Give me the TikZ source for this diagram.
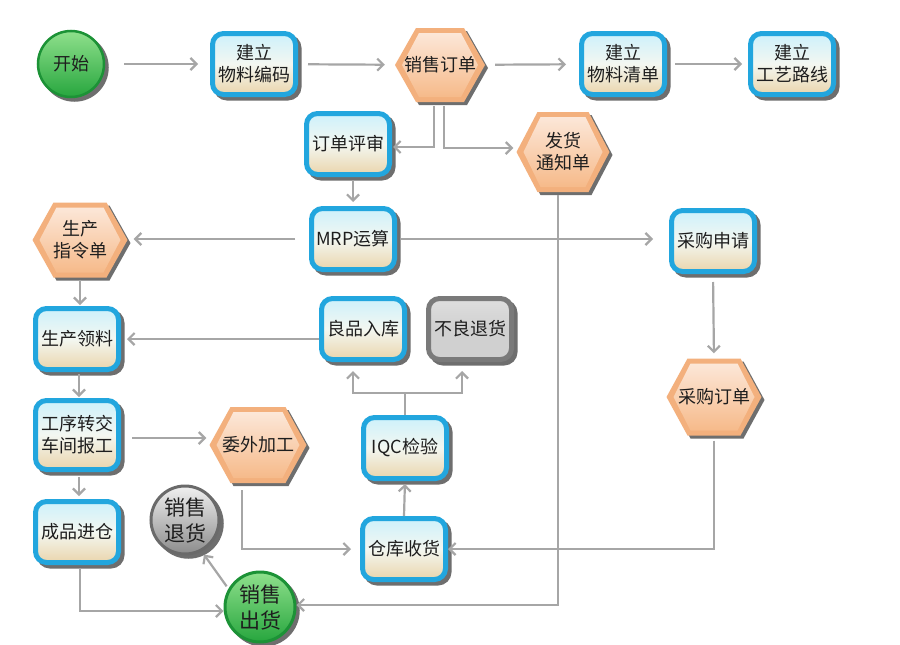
\documentclass[tikz,border=0pt]{standalone}
\usepackage{fontspec}
\setmainfont{Noto Sans CJK SC}
\usetikzlibrary{shadows,arrows.meta,calc}
\definecolor{bluebd}{HTML}{22A6DE}
\definecolor{boxtop}{HTML}{CDF1FB}
\definecolor{boxmid}{HTML}{F3F7F1}
\definecolor{boxbot}{HTML}{EAD5AC}
\definecolor{hexbd}{HTML}{F3B07D}
\definecolor{hextop}{HTML}{FCE7D8}
\definecolor{hexbot}{HTML}{F6BA8A}
\definecolor{gtop}{HTML}{8FE08C}
\definecolor{gbot}{HTML}{27A63E}
\definecolor{gbd}{HTML}{1C9236}
\definecolor{graytop}{HTML}{F0F0F0}
\definecolor{graybot}{HTML}{8C8C8C}
\definecolor{graybd}{HTML}{6A6A6A}
\definecolor{gbxbd}{HTML}{7A7A7A}
\definecolor{gbxfill}{HTML}{D0D0D0}
\definecolor{arrc}{HTML}{A6A6A6}
\definecolor{shadc}{HTML}{6E6E6E}
\definecolor{txtc}{HTML}{1E1E1E}
\tikzset{
  myshadow/.style={drop shadow={shadow xshift=3.5pt, shadow yshift=-3.5pt, fill=shadc, draw=shadc, line width=#1, opacity=1}},
  box/.style={draw=bluebd, line width=5pt, rounded corners=11pt,
    top color=boxtop, bottom color=boxbot, middle color=boxmid,
    minimum width=83pt, minimum height=61pt, inner sep=0pt, align=center,
    text=txtc, font=\fontsize{18}{22}\selectfont, myshadow=5pt},
  graybox/.style={box, draw=gbxbd, top color=gbxfill!70!white, bottom color=gbxfill, middle color=gbxfill},
  hexlabel/.style={rectangle, inner sep=0pt, align=center, text=txtc,
    font=\fontsize{18}{22}\selectfont},
  greenc/.style={circle, draw=gbd, line width=2.5pt, top color=gtop, bottom color=gbot,
    minimum size=66pt, inner sep=0pt, align=center, text=txtc,
    font=\fontsize{18}{22}\selectfont, myshadow=2.5pt},
  grayc/.style={greenc, draw=graybd, line width=3pt, top color=graytop, bottom color=graybot,
    minimum size=68pt, font=\fontsize{21}{26}\selectfont},
  arr/.style={draw=arrc, line width=2.2pt, -{Straight Barb[length=6pt,width=12pt]},
    shorten <=10pt, shorten >=10pt},
  ln/.style={draw=arrc, line width=2.2pt}
}
% hexagon: name, x, y, width, height, text
\newcommand{\hexnode}[6]{%
  \fill[shadc] ({#2-#4/2+3},{#3+3}) -- ({#2-#4/2+21+3},{#3-#5/2+3}) -- ({#2+#4/2-21+3},{#3-#5/2+3}) -- ({#2+#4/2+3},{#3+3}) -- ({#2+#4/2-21+3},{#3+#5/2+3}) -- ({#2-#4/2+21+3},{#3+#5/2+3}) -- cycle;
  \fill[hexbd] ({#2-#4/2},{#3}) -- ({#2-#4/2+21},{#3-#5/2}) -- ({#2+#4/2-21},{#3-#5/2}) -- ({#2+#4/2},{#3}) -- ({#2+#4/2-21},{#3+#5/2}) -- ({#2-#4/2+21},{#3+#5/2}) -- cycle;
  \shade[top color=hextop, bottom color=hexbot] ({#2-#4/2+7},{#3}) -- ({#2-#4/2+24},{#3-#5/2+5}) -- ({#2+#4/2-24},{#3-#5/2+5}) -- ({#2+#4/2-7},{#3}) -- ({#2+#4/2-24},{#3+#5/2-5}) -- ({#2-#4/2+24},{#3+#5/2-5}) -- cycle;
  \node[hexlabel, minimum width=#4, minimum height=#5] (#1) at (#2,#3) {#6};
}
\begin{document}
\begin{tikzpicture}[x=1pt,y=-1pt]
\useasboundingbox (0,0) rectangle (900,645);
\fill[white] (0,0) rectangle (900,645);
% nodes
\node[greenc] (start) at (71,64) {开始};
\node[box] (wlbm) at (254,64) {建立\\物料编码};
\hexnode{xsdd}{440}{65}{90}{74}{销售订单}
\node[box] (wlqd) at (623,64) {建立\\物料清单};
\node[box] (gylx) at (792,64) {建立\\工艺路线};
\hexnode{fhtz}{563}{152}{93}{80}{发货\\通知单}
\node[box] (ddps) at (348,144) {订单评审};
\node[box] (mrp) at (353,239) {MRP运算};
\hexnode{sczl}{80}{240}{95}{75}{生产\\指令单}
\node[box] (cgsq) at (713,241) {采购申请};
\node[box] (scll) at (77,339) {生产领料};
\node[box] (lprk) at (363,329) {良品入库};
\node[graybox] (blth) at (470,329) {不良退货};
\hexnode{cgdd}{714}{397}{95}{77}{采购订单}
\node[box, minimum height=69pt] (gxzj) at (77,435) {工序转交\\车间报工};
\hexnode{wwjg}{258}{445}{97}{76}{委外加工}
\node[box] (iqc) at (405,448) {IQC检验};
\node[box] (cpjc) at (77,532) {成品进仓};
\node[grayc] (xsth) at (185,520) {销售\\退货};
\node[grayc, draw=gbd, top color=gtop, bottom color=gbot, minimum size=70pt] (xsck) at (260,607) {销售\\出货};
\node[box] (ckhs) at (404,549) {仓库收货};
% connectors
\draw[arr, shorten <=19pt, shorten >=12pt] (start) -- (wlbm);
\draw[arr] (wlbm) -- (xsdd);
\draw[arr, shorten >=13pt] (xsdd) -- (wlqd);
\draw[arr, shorten <=8pt, shorten >=6pt] (wlqd) -- (gylx);
\draw[arr, shorten <=4pt, shorten >=1pt] ($(xsdd.south)+(-6,0)$) |- ($(ddps.east)+(0,3)$);
\draw[arr, shorten <=4pt, shorten >=3pt] ($(xsdd.south)+(4,0)$) |- ($(fhtz.west)+(0,-4)$);
\draw[arr, shorten <=3pt, shorten >=0pt] ($(fhtz.south)+(-5,0)$) |- ($(xsck.east)+(0,-2)$);
\draw[arr, shorten <=3pt, shorten >=4pt] (ddps.south -| mrp.north) -- (mrp.north);
\draw[arr, shorten <=14pt, shorten >=6pt] (mrp.west) -- (mrp.west -| sczl.east);
\draw[arr, shorten <=4pt, shorten >=16pt] (mrp.east) -- (mrp.east -| cgsq.west);
\draw[arr, shorten <=8pt, shorten >=5pt] (cgsq.south) -- (cgdd.north);
\draw[arr, shorten <=5pt, shorten >=0pt] (cgdd.south) |- (ckhs.east);
\draw[arr, shorten <=2pt, shorten >=1pt] (sczl.south) -- (sczl.south |- scll.north);
\draw[arr, shorten <=0pt, shorten >=6pt] (lprk.west |- scll.east) -- (scll.east);
\coordinate (j) at ($(iqc.north)+(0,-22)$);
\draw[ln] (iqc.north) -- (j);
\draw[arr, shorten <=0pt, shorten >=9pt] (j) -| ($(lprk.south)+(-10,0)$);
\draw[arr, shorten <=0pt, shorten >=9pt] (j) -| ($(blth.south)+(-8,0)$);
\draw[arr, shorten <=0pt, shorten >=3pt] (ckhs.north) -- (iqc.south);
\draw[arr, shorten <=2pt, shorten >=1pt] ($(scll.south)+(2,0)$) -- ($(gxzj.north)+(2,0)$);
\draw[arr, shorten <=5pt, shorten >=3pt] ($(gxzj.south)+(2,0)$) -- ($(cpjc.north)+(2,0)$);
\draw[arr, shorten <=11pt, shorten >=3pt] ($(gxzj.east)+(0,3)$) -- ($(gxzj.east -| wwjg.west)+(0,3)$);
\draw[arr, shorten <=7pt, shorten >=9pt] ($(wwjg.south)+(-16,0)$) |- (ckhs.west);
\draw[arr, shorten <=3pt, shorten >=0pt] ($(cpjc.south)+(3,0)$) |- ($(xsck.west)+(0,4)$);
\draw[arr, shorten <=3pt, shorten >=4pt] (xsck.150) -- (xsth.-62);
\end{tikzpicture}
\end{document}
